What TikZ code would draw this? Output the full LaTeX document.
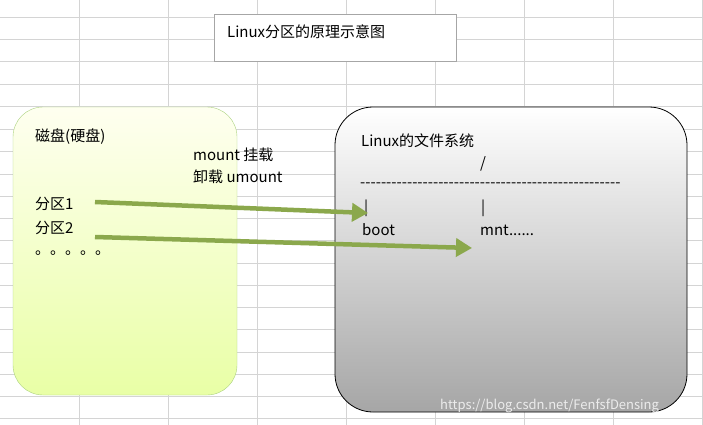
\documentclass[tikz,border=0pt]{standalone}
\usepackage{fontspec}
\setmainfont{Noto Sans CJK SC}
\usetikzlibrary{arrows.meta}
\definecolor{gridc}{HTML}{D4D4D4}
\definecolor{arrc}{HTML}{8BA84C}
\newcommand\mydashes{\foreach\i in{1,...,50}{-\kern0pt}}
\tikzset{
 lbl/.style={anchor=west,inner sep=0pt,font=\fontsize{15}{17}\selectfont},
 arr/.style={draw=arrc,line width=4.5pt,-{Triangle[length=16pt,width=18pt]}}
}
\begin{document}
\begin{tikzpicture}[x=1pt,y=-1pt]
\useasboundingbox (0,0) rectangle (703,425);
\fill[white] (0,0) rectangle (703,425);
\foreach \x in {79,168,257,346,435,524,613,702} \draw[gridc,line width=1pt] (\x,0) -- (\x,425);
\foreach \y in {18,40,62,85,107,129,151,174,196,218,240,263,285,307,329,352,374,396,418} \draw[gridc,line width=1pt] (0,\y) -- (703,\y);
\node[draw=gray!70,fill=white,minimum width=242pt,minimum height=47pt,anchor=north west,inner sep=0pt] (title) at (214,14) {};
\node[lbl] (tt) at (227,32) {Linux分区的原理示意图};
\shade[top color=green!4!yellow!6,bottom color=green!25!yellow!35!white,draw=green!30!olive!50] [rounded corners=30pt] (13,107) rectangle (237,395);
\coordinate (disk) at (13,107);
\shade[top color=white,bottom color=gray!70,draw=black,line width=0.8pt] [rounded corners=38pt] (335,107) rectangle (687,412);
\coordinate (fs) at (335,107);
\node[lbl] (d) at (35,137) {磁盘(硬盘)};
\node[lbl] (m1) at (193,155) {mount 挂载};
\node[lbl] (m2) at (193,177) {卸载 umount};
\node[lbl] (p1) at (35,204) {分区1};
\node[lbl] (p2) at (35,228) {分区2};
\node[lbl] (dots) at (35,253) {。。。。。};
\node[lbl] (lfs) at (361,141) {Linux的文件系统};
\node[lbl] (root) at (480,164) {/};
\node[lbl] (dash) at (360,185) {\mydashes};
\node[lbl] (b1) at (364,208) {|};
\node[lbl] (b2) at (481,208) {|};
\node[lbl] (boot) at (362,230) {boot};
\node[lbl] (mnt) at (480,230) {mnt......};
\coordinate (a1s) at (95,202); \coordinate (a1e) at (368,213);
\coordinate (a2s) at (95,237); \coordinate (a2e) at (472,248);
\draw[arr] (a1s) -- (a1e);
\draw[arr] (a2s) -- (a2e);
\node[lbl,text=white!85!gray,font=\fontsize{13}{14}\selectfont] (wm) at (440,406) {https://blog.csdn.net/FenfsfDensing};
\end{tikzpicture}
\end{document}
